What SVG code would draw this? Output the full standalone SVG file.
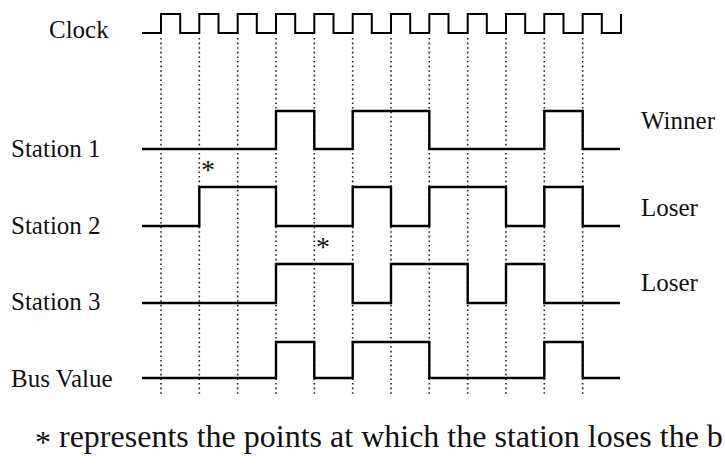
<svg xmlns="http://www.w3.org/2000/svg" width="725" height="472" viewBox="0 0 725 472">
<style>
text{font-family:"Liberation Serif","Times New Roman",serif;fill:#111}
.lbl{font-size:25px}
.wave{fill:none;stroke:#000;stroke-width:2.4;stroke-linejoin:miter}
.clk{fill:none;stroke:#000;stroke-width:2}
.grid{stroke:#222;stroke-width:1.6;stroke-dasharray:1.6 3}
.star{font-size:28px}
</style>
<rect width="725" height="472" fill="#fff"/>
<g id="grid">
<line class="grid" x1="161" y1="38" x2="161" y2="396"/>
<line class="grid" x1="199.3" y1="38" x2="199.3" y2="396"/>
<line class="grid" x1="237.7" y1="38" x2="237.7" y2="396"/>
<line class="grid" x1="276" y1="38" x2="276" y2="396"/>
<line class="grid" x1="314.3" y1="38" x2="314.3" y2="396"/>
<line class="grid" x1="352.7" y1="38" x2="352.7" y2="396"/>
<line class="grid" x1="391" y1="38" x2="391" y2="396"/>
<line class="grid" x1="429.3" y1="38" x2="429.3" y2="396"/>
<line class="grid" x1="467.7" y1="38" x2="467.7" y2="396"/>
<line class="grid" x1="506" y1="38" x2="506" y2="396"/>
<line class="grid" x1="544.3" y1="38" x2="544.3" y2="396"/>
<line class="grid" x1="582.7" y1="38" x2="582.7" y2="396"/>
</g>
<g id="clock">
<text class="lbl" x="49" y="38">Clock</text>
<path class="clk" d="M142,33 H161 V14 H180.2 V33 H199.3 V14 H218.5 V33 H237.7 V14 H256.8 V33 H276 V14 H295.2 V33 H314.3 V14 H333.5 V33 H352.7 V14 H371.8 V33 H391 V14 H410.2 V33 H429.3 V14 H448.5 V33 H467.7 V14 H486.8 V33 H506 V14 H525.2 V33 H544.3 V14 H563.5 V33 H582.7 V14 H601.8 V33 H621 V14"/>
</g>
<g id="station1">
<text class="lbl" x="11" y="157">Station 1</text>
<path class="wave" d="M142,149 H276 V111 H314.3 V149 H352.7 V111 H429.3 V149 H544.3 V111 H582.7 V149 H620"/>
<text class="lbl" x="641" y="129">Winner</text>
</g>
<g id="station2">
<text class="lbl" x="11" y="234">Station 2</text>
<path class="wave" d="M142,226 H199.3 V187 H276 V226 H352.7 V187 H391 V226 H429.3 V187 H506 V226 H544.3 V187 H582.7 V226 H620"/>
<text class="lbl" x="641" y="216">Loser</text>
<text class="star" x="201" y="179">*</text>
</g>
<g id="station3">
<text class="lbl" x="11" y="310">Station 3</text>
<path class="wave" d="M142,303 H276 V264 H352.7 V303 H391 V264 H467.7 V303 H506 V264 H544.3 V303 H620"/>
<text class="lbl" x="641" y="291">Loser</text>
<text class="star" x="316" y="256">*</text>
</g>
<g id="bus">
<text class="lbl" x="11" y="387">Bus Value</text>
<path class="wave" d="M142,378 H276 V342 H314.3 V378 H352.7 V342 H429.3 V378 H544.3 V342 H582.7 V378 H620"/>
</g>
<g id="note">
<text x="35" y="447" style="font-size:32px"><tspan baseline-shift="-6">*</tspan> represents the points at which the station loses the b</text>
</g>
</svg>
